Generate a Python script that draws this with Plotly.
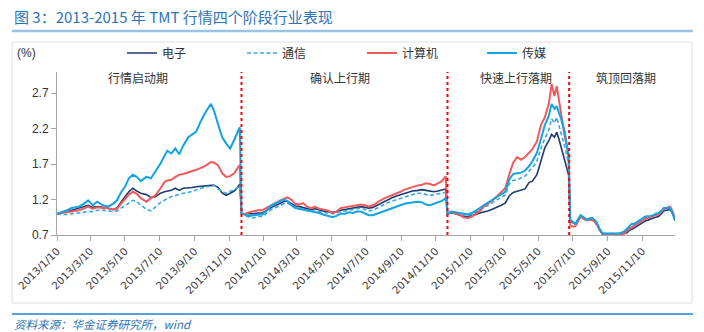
import plotly.graph_objects as go

# ---------------- data ----------------
DATES_P1 = ["2013-01-10", "2013-01-18", "2013-01-28", "2013-02-05", "2013-02-18", "2013-02-28",
            "2013-03-06", "2013-03-14", "2013-03-22", "2013-04-01", "2013-04-10", "2013-04-19",
            "2013-04-26", "2013-05-03", "2013-05-10", "2013-05-17", "2013-05-24", "2013-05-31",
            "2013-06-07", "2013-06-17", "2013-06-25", "2013-07-03", "2013-07-12", "2013-07-19",
            "2013-07-24", "2013-07-31", "2013-08-07", "2013-08-14", "2013-08-21", "2013-08-30",
            "2013-09-06", "2013-09-13", "2013-09-22", "2013-09-30", "2013-10-09", "2013-10-15",
            "2013-10-22", "2013-10-29", "2013-11-05", "2013-11-12", "2013-11-19", "2013-11-25",
            "2013-11-29"]
DATES_P2 = ["2013-12-02", "2013-12-09", "2013-12-16", "2013-12-23", "2013-12-31", "2014-01-08",
            "2014-01-16", "2014-01-24", "2014-02-07", "2014-02-14", "2014-02-21", "2014-02-28",
            "2014-03-07", "2014-03-14", "2014-03-21", "2014-03-28", "2014-04-04", "2014-04-11",
            "2014-04-18", "2014-04-25", "2014-05-05", "2014-05-12", "2014-05-19", "2014-05-26",
            "2014-06-03", "2014-06-10", "2014-06-17", "2014-06-24", "2014-07-01", "2014-07-08",
            "2014-07-15", "2014-07-22", "2014-07-29", "2014-08-05", "2014-08-12", "2014-08-19",
            "2014-08-26", "2014-09-02", "2014-09-09", "2014-09-16", "2014-09-23", "2014-09-30",
            "2014-10-10", "2014-10-17", "2014-10-24", "2014-10-31", "2014-11-07", "2014-11-14",
            "2014-11-21", "2014-11-28"]
DATES_P3 = ["2014-12-01", "2014-12-08", "2014-12-15", "2014-12-22", "2014-12-29", "2015-01-06",
            "2015-01-13", "2015-01-20", "2015-01-27", "2015-02-03", "2015-02-10", "2015-02-17",
            "2015-02-27", "2015-03-06", "2015-03-13", "2015-03-20", "2015-03-27", "2015-04-03",
            "2015-04-10", "2015-04-17", "2015-04-24", "2015-04-30", "2015-05-08", "2015-05-15",
            "2015-05-22", "2015-05-29", "2015-06-03", "2015-06-08", "2015-06-12", "2015-06-16",
            "2015-06-19", "2015-06-26", "2015-07-03"]
DATES_P4 = ["2015-07-06", "2015-07-09", "2015-07-14", "2015-07-17", "2015-07-22", "2015-07-24",
            "2015-07-28", "2015-07-31", "2015-08-05", "2015-08-10", "2015-08-14", "2015-08-18",
            "2015-08-21", "2015-08-24", "2015-08-26", "2015-09-01", "2015-09-08", "2015-09-15",
            "2015-09-22", "2015-09-30", "2015-10-09", "2015-10-14", "2015-10-19", "2015-10-23",
            "2015-10-28", "2015-11-02", "2015-11-06", "2015-11-11", "2015-11-16", "2015-11-20",
            "2015-11-25", "2015-11-30", "2015-12-04", "2015-12-09", "2015-12-14", "2015-12-18",
            "2015-12-23", "2015-12-28", "2015-12-31", "2016-01-04", "2016-01-07"]

# 电子
DIANZI_P1 = [1.00, 1.02, 1.04, 1.05, 1.08, 1.10, 1.12, 1.09, 1.10, 1.09, 1.08, 1.06, 1.08, 1.17, 1.24,
             1.31, 1.36, 1.32, 1.29, 1.27, 1.23, 1.24, 1.29, 1.31, 1.32, 1.33, 1.36, 1.33, 1.36, 1.36,
             1.37, 1.38, 1.39, 1.39, 1.40, 1.40, 1.37, 1.29, 1.26, 1.29, 1.32, 1.37, 1.42]
DIANZI_P2 = [1.00, 1.00, 0.99, 1.00, 1.01, 1.01, 1.05, 1.09, 1.14, 1.17,
             1.18, 1.15, 1.11, 1.10, 1.09, 1.07, 1.06, 1.07, 1.05, 1.04,
             1.03, 1.02, 1.03, 1.05, 1.06, 1.07, 1.08, 1.09, 1.10, 1.09,
             1.08, 1.09, 1.12, 1.15, 1.18, 1.20, 1.23, 1.25, 1.27, 1.29,
             1.31, 1.32, 1.33, 1.34, 1.33, 1.32, 1.31, 1.32, 1.33, 1.35]
DIANZI_P3 = [1.00, 1.01, 1.00, 0.98, 0.96, 0.96, 0.97, 0.99, 1.01, 1.02, 1.04, 1.06, 1.09, 1.12,
             1.15, 1.25, 1.30, 1.32, 1.33, 1.35, 1.44, 1.46, 1.55, 1.75, 1.93, 2.03, 2.12, 2.08,
             2.15, 2.05, 1.96, 1.78, 1.55]
DIANZI_P4 = [0.89, 0.88, 0.86, 0.88, 0.94, 0.96, 0.94, 0.92, 0.92, 0.92, 0.92, 0.89, 0.86, 0.82, 0.78,
             0.71, 0.71, 0.71, 0.71, 0.71, 0.72, 0.73, 0.77, 0.78, 0.80,
             0.83, 0.85, 0.88, 0.90, 0.91, 0.93, 0.94,
             0.95, 0.96, 1.00, 1.04, 1.05, 1.06, 1.04, 0.98, 0.90]

# 通信
TONGXIN_P1 = [1.00, 0.99, 0.99, 1.00, 1.01, 1.02, 1.03, 1.03, 1.05, 1.05, 1.04, 1.03, 1.04, 1.08, 1.11,
              1.16, 1.19, 1.17, 1.12, 1.06, 1.04, 1.10, 1.16, 1.19, 1.22, 1.24, 1.26, 1.27, 1.29, 1.30,
              1.32, 1.34, 1.36, 1.38, 1.39, 1.40, 1.35, 1.31, 1.29, 1.31, 1.34, 1.37, 1.40]
TONGXIN_P2 = [1.00, 0.97, 0.95, 0.94, 0.96, 0.96, 1.01, 1.06, 1.11, 1.14,
              1.15, 1.12, 1.09, 1.08, 1.06, 1.05, 1.04, 1.04, 1.03, 1.02,
              1.01, 1.00, 1.01, 1.03, 1.04, 1.05, 1.06, 1.07, 1.08, 1.06,
              1.04, 1.05, 1.08, 1.11, 1.14, 1.16, 1.18, 1.20, 1.22, 1.24,
              1.26, 1.27, 1.29, 1.29, 1.27, 1.26, 1.27, 1.28, 1.29, 1.30]
TONGXIN_P3 = [1.00, 1.02, 1.01, 0.99, 0.98, 0.98, 0.99, 1.02, 1.05, 1.09, 1.12, 1.15, 1.20, 1.23,
              1.26, 1.42, 1.47, 1.48, 1.50, 1.53, 1.60, 1.65, 1.74, 1.92, 2.06, 2.18, 2.34, 2.28,
              2.36, 2.25, 2.16, 1.95, 1.72]
TONGXIN_P4 = [0.90, 0.89, 0.87, 0.89, 0.95, 0.97, 0.95, 0.93, 0.91, 0.93, 0.93, 0.90, 0.88, 0.83, 0.79,
              0.72, 0.72, 0.71, 0.72, 0.72, 0.74, 0.78, 0.82, 0.84, 0.85,
              0.88, 0.90, 0.93, 0.95, 0.95, 0.96, 0.97,
              0.98, 1.00, 1.03, 1.06, 1.07, 1.08, 1.06, 0.98, 0.91]

# 计算机
JISUANJI_P1 = [1.00, 1.01, 1.03, 1.04, 1.05, 1.08, 1.10, 1.07, 1.09, 1.08, 1.08, 1.06, 1.07, 1.14, 1.20,
               1.27, 1.31, 1.28, 1.22, 1.17, 1.22, 1.26, 1.36, 1.45, 1.47, 1.48, 1.52, 1.55, 1.56, 1.58,
               1.60, 1.62, 1.65, 1.68, 1.73, 1.72, 1.68, 1.57, 1.52, 1.53, 1.57, 1.65, 1.69]
JISUANJI_P2 = [1.00, 1.00, 1.02, 1.03, 1.05, 1.05, 1.08, 1.12, 1.18, 1.21,
               1.23, 1.20, 1.14, 1.13, 1.15, 1.10, 1.08, 1.10, 1.07, 1.06,
               1.04, 1.01, 1.03, 1.08, 1.09, 1.10, 1.11, 1.12, 1.13, 1.12,
               1.10, 1.12, 1.16, 1.19, 1.22, 1.24, 1.27, 1.29, 1.31, 1.34,
               1.36, 1.38, 1.40, 1.41, 1.43, 1.42, 1.40, 1.43, 1.46, 1.53]
JISUANJI_P3 = [1.00, 1.02, 1.01, 0.99, 0.95, 0.94, 0.96, 1.00, 1.04, 1.10, 1.14, 1.18, 1.25, 1.30,
               1.36, 1.55, 1.72, 1.80, 1.76, 1.80, 1.86, 1.91, 2.02, 2.25, 2.36, 2.55, 2.83, 2.66,
               2.80, 2.60, 2.45, 2.10, 1.85]
JISUANJI_P4 = [0.84, 0.82, 0.82, 0.85, 0.93, 0.96, 0.94, 0.92, 0.91, 0.91, 0.91, 0.89, 0.86, 0.82, 0.78,
               0.72, 0.71, 0.71, 0.71, 0.71, 0.72, 0.76, 0.79, 0.81, 0.84,
               0.86, 0.88, 0.91, 0.93, 0.94, 0.96, 0.97,
               0.98, 0.99, 1.03, 1.06, 1.08, 1.10, 1.08, 1.01, 0.91]

# 传媒
CHUANMEI_P1 = [1.00, 1.02, 1.05, 1.08, 1.10, 1.15, 1.19, 1.12, 1.17, 1.12, 1.10, 1.14, 1.19, 1.30, 1.38,
               1.50, 1.55, 1.52, 1.46, 1.52, 1.50, 1.60, 1.71, 1.82, 1.89, 1.85, 1.92, 1.84, 1.96, 2.08,
               2.12, 2.16, 2.32, 2.44, 2.55, 2.44, 2.25, 2.08, 1.99, 1.92, 2.04, 2.16, 2.22]
CHUANMEI_P2 = [1.00, 0.99, 0.97, 0.98, 0.99, 0.99, 1.05, 1.12, 1.17, 1.20,
               1.18, 1.12, 1.08, 1.07, 1.05, 1.04, 1.03, 1.02, 1.01, 0.99,
               0.97, 0.95, 0.97, 1.00, 1.00, 1.02, 1.01, 1.03, 1.03, 1.01,
               0.98, 0.98, 1.00, 1.02, 1.05, 1.07, 1.08, 1.11, 1.12, 1.14,
               1.15, 1.16, 1.17, 1.16, 1.13, 1.12, 1.14, 1.15, 1.18, 1.22]
CHUANMEI_P3 = [1.00, 1.03, 1.02, 1.01, 1.00, 0.99, 1.01, 1.04, 1.08, 1.12, 1.15, 1.19, 1.24, 1.28,
               1.31, 1.48, 1.56, 1.57, 1.58, 1.61, 1.67, 1.74, 1.86, 2.05, 2.25, 2.38, 2.55, 2.48,
               2.52, 2.42, 2.36, 2.16, 1.80]
CHUANMEI_P4 = [0.91, 0.89, 0.86, 0.88, 0.95, 0.98, 0.96, 0.94, 0.91, 0.94, 0.94, 0.91, 0.89, 0.84, 0.80,
               0.72, 0.72, 0.71, 0.72, 0.72, 0.75, 0.79, 0.84, 0.86, 0.86,
               0.89, 0.91, 0.94, 0.96, 0.96, 0.97, 0.98,
               1.00, 1.01, 1.04, 1.08, 1.08, 1.08, 1.06, 0.98, 0.91]

SERIES_NAMES = ["电子", "通信", "计算机", "传媒"]
PHASE_LABELS = ["行情启动期", "确认上行期", "快速上行落期", "筑顶回落期"]
PHASE_BOUNDARIES = ["2013-12-02", "2014-12-01", "2015-07-04"]

X_TICK_VALS = ["2013-01-10", "2013-03-10", "2013-05-10", "2013-07-10", "2013-09-10", "2013-11-10",
               "2014-01-10", "2014-03-10", "2014-05-10", "2014-07-10", "2014-09-10", "2014-11-10",
               "2015-01-10", "2015-03-10", "2015-05-10", "2015-07-10", "2015-09-10", "2015-11-10"]
X_TICK_TEXT = ["2013/1/10", "2013/3/10", "2013/5/10", "2013/7/10", "2013/9/10", "2013/11/10",
               "2014/1/10", "2014/3/10", "2014/5/10", "2014/7/10", "2014/9/10", "2014/11/10",
               "2015/1/10", "2015/3/10", "2015/5/10", "2015/7/10", "2015/9/10", "2015/11/10"]
Y_TICK_VALS = [0.7, 1.2, 1.7, 2.2, 2.7]
Y_TICK_TEXT = ["0.7", "1.2", "1.7", "2.2", "2.7"]

TITLE = "图 3：2013-2015 年 TMT 行情四个阶段行业表现"
SOURCE = "资料来源：华金证券研究所，wind"

# ---------------- layout geometry ----------------
W, H = 704, 332
ML, MR, MT, MB = 57, 29, 72, 97
PW = W - ML - MR
PH = H - MT - MB


def px_x(px):
    return (px - ML) / PW


def px_y(py):
    return (H - MB - py) / PH


CJK = "Noto Sans CJK SC, Noto Sans, sans-serif"
LAT = "Liberation Sans, Arial, sans-serif"

dates = DATES_P1 + DATES_P2 + DATES_P3 + DATES_P4
values = [
    DIANZI_P1 + DIANZI_P2 + DIANZI_P3 + DIANZI_P4,
    TONGXIN_P1 + TONGXIN_P2 + TONGXIN_P3 + TONGXIN_P4,
    JISUANJI_P1 + JISUANJI_P2 + JISUANJI_P3 + JISUANJI_P4,
    CHUANMEI_P1 + CHUANMEI_P2 + CHUANMEI_P3 + CHUANMEI_P4,
]
styles = [
    dict(color="#1F3A6E", width=1.6),
    dict(color="#36A9E1", width=1.6, dash="4px,2.5px"),
    dict(color="#F2595D", width=2.0),
    dict(color="#12A4E2", width=2.0),
]

fig = go.Figure()
for name, vals, st in zip(SERIES_NAMES, values, styles):
    assert len(vals) == len(dates)
    fig.add_trace(go.Scatter(x=dates, y=vals, mode="lines", name=name, line=st))

shapes = []
for b in PHASE_BOUNDARIES:
    shapes.append(dict(type="line", xref="x", yref="paper", x0=b, x1=b, y0=0, y1=1,
                       line=dict(color="#FF0000", width=2, dash="dot"), layer="above"))
# outer light frame
shapes.append(dict(type="rect", xref="paper", yref="paper", x0=px_x(12), x1=px_x(692),
                   y0=px_y(303), y1=px_y(42), line=dict(color="#E0E0E0", width=1), layer="below"))
# title underline and footer line
shapes.append(dict(type="line", xref="paper", yref="paper", x0=px_x(12), x1=px_x(693),
                   y0=px_y(31), y1=px_y(31), line=dict(color="#9CC3E5", width=2.5)))
shapes.append(dict(type="line", xref="paper", yref="paper", x0=px_x(12), x1=px_x(693),
                   y0=px_y(314), y1=px_y(314), line=dict(color="#5AA0DC", width=2)))

annotations = [
    dict(text=TITLE, xref="paper", yref="paper", x=px_x(12), y=px_y(17), xanchor="left",
         yanchor="middle", showarrow=False, font=dict(family=CJK, size=15, color="#2E74B5")),
    dict(text="<i>" + SOURCE + "</i>", xref="paper", yref="paper", x=px_x(12), y=px_y(324),
         xanchor="left", yanchor="middle", showarrow=False,
         font=dict(family=CJK, size=11.5, color="#2E74B5")),
    dict(text="(%)", xref="paper", yref="paper", x=px_x(15), y=px_y(53), xanchor="left",
         yanchor="middle", showarrow=False, font=dict(family=LAT, size=12, color="#333333")),
]
phase_centers_px = [138, 340, 516, 626]
for lab, cx in zip(PHASE_LABELS, phase_centers_px):
    annotations.append(dict(text=lab, xref="paper", yref="paper", x=px_x(cx), y=px_y(77),
                            xanchor="center", yanchor="middle", showarrow=False,
                            font=dict(family=CJK, size=12, color="#333333")))

fig.update_layout(
    width=W, height=H,
    margin=dict(l=ML, r=MR, t=MT, b=MB),
    paper_bgcolor="white", plot_bgcolor="white",
    shapes=shapes, annotations=annotations,
    showlegend=True,
    legend=dict(orientation="h", x=px_x(122), y=px_y(53), xanchor="left", yanchor="middle",
                font=dict(family=CJK, size=12, color="#333333"), bgcolor="rgba(0,0,0,0)",
                entrywidth=75, entrywidthmode="pixels", itemwidth=30, tracegroupgap=0),
    xaxis=dict(type="date", range=["2013-01-10", "2016-01-07"], tickmode="array",
               tickvals=X_TICK_VALS, ticktext=X_TICK_TEXT, tickangle=-45,
               showline=True, linecolor="#A6A6A6", linewidth=1, ticks="outside", ticklen=5,
               tickcolor="#A6A6A6", showgrid=False, zeroline=False,
               tickfont=dict(family="DejaVu Sans, sans-serif", size=10.5, color="#404040")),
    yaxis=dict(range=[0.7, 3.0], tickmode="array", tickvals=Y_TICK_VALS, ticktext=Y_TICK_TEXT,
               showline=True, linecolor="#A6A6A6", linewidth=1, ticks="outside", ticklen=5,
               tickcolor="#A6A6A6", showgrid=False, zeroline=False,
               tickfont=dict(family=LAT, size=12, color="#333333")),
)

fig.write_html("out.html")
